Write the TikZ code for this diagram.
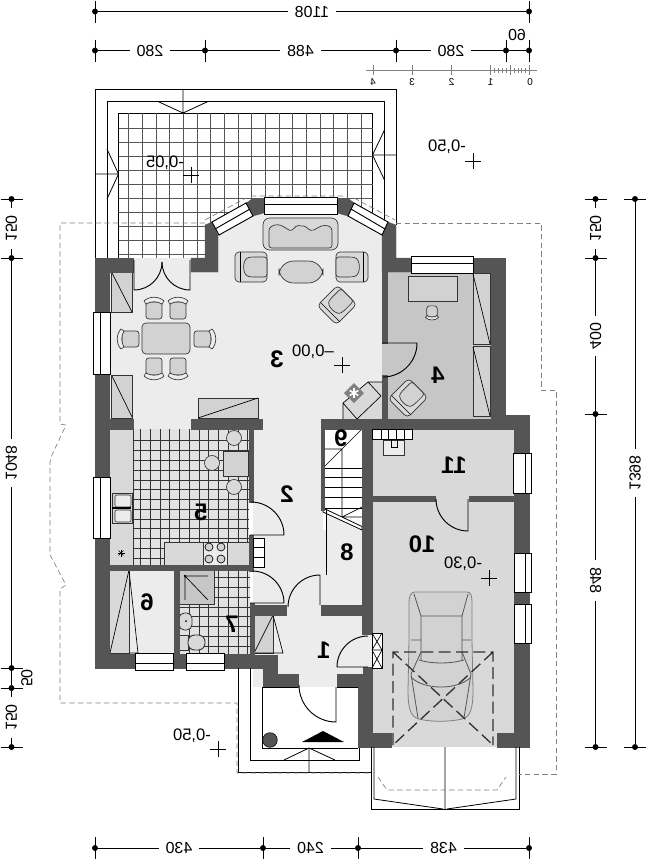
\documentclass[tikz,border=0pt]{standalone}
\usepackage{fontspec}
\usepackage{graphicx}
\setmainfont{Liberation Sans}
\definecolor{wallgray}{HTML}{555555}
\definecolor{hallgray}{HTML}{ECECEC}
\definecolor{studygray}{HTML}{C6C6C6}
\definecolor{garagegray}{HTML}{D9D9D9}
\definecolor{furngray}{HTML}{D2D2D2}
\definecolor{linegray}{HTML}{333333}
\definecolor{tilegray}{HTML}{E2E2E2}
\newcommand{\mirr}[1]{\reflectbox{#1}}
\newcommand{\vmirr}[1]{\scalebox{1}[-1]{#1}}
\tikzset{
	wall/.style={fill=wallgray,draw=wallgray,line width=0.2pt},
	pane/.style={fill=white,draw=black,line width=0.7pt},
	doorleaf/.style={draw=black,line width=0.7pt},
	furn/.style={fill=furngray,draw=linegray,line width=0.5pt},
	tileline/.style={draw=linegray,line width=0.45pt},
	overhang/.style={draw=gray,dashed,line width=0.5pt,dash pattern=on 4pt off 2.5pt},
	dimdot/.style={draw,fill=black,shape=circle,inner sep=0pt,minimum size=4pt},
	dimtext/.style={fill=white,inner xsep=5pt,inner ysep=1pt,font=\fontsize{12}{12}\selectfont},
	dimvert/.style={dimtext,rotate=90},
	dimfree/.style={inner sep=0pt,font=\fontsize{12}{12}\selectfont},
	roomno/.style={font=\bfseries\fontsize{18}{18}\selectfont,inner sep=0pt},
	level/.style={font=\fontsize{12.5}{13}\selectfont,inner sep=0pt},
	scaleno/.style={font=\fontsize{7.5}{8}\selectfont,inner sep=0pt},
	pics/dinechair/.style={code={
		\draw[furn,rounded corners=2pt] (-8,-6) rectangle (8,11);
		\draw[fill=hallgray,draw=linegray,line width=0.5pt] (-10,-7) .. controls (-5,-12) and (5,-12) .. (10,-7) -- (8,-4) .. controls (3,-7) and (-3,-7) .. (-8,-4) -- cycle;
	}},
	pics/armchair/.style={code={
		\draw[fill=garagegray,draw=linegray,line width=0.5pt,rounded corners=3pt] (-15,-16) rectangle (15,16);
		\draw[furn,rounded corners=2pt] (-10,16) -- (-10,0) .. controls (-8,-9) and (8,-9) .. (10,0) -- (10,16) -- cycle;
		\draw[line width=0.5pt] (-15,-11) -- (15,-11);
	}}
}
\begin{document}
\begin{tikzpicture}[x=0.75pt,y=-0.75pt,line cap=butt]
	\useasboundingbox (0,0) rectangle (646,860);

	\draw[fill=white,line width=0.7pt] (95,258) -- (95,89) -- (396,89) -- (396,225);
	\draw[line width=0.7pt] (107,258) -- (107,101.5) -- (384.5,101.5) -- (384.5,235);
	\draw[line width=0.7pt] (118.5,258) -- (118.5,113) -- (372.5,113) -- (372.5,220);
	\foreach \gx in {128.6,142.27,...,362} \draw[draw=wallgray,line width=0.55pt] (\gx,113) -- (\gx,258);
	\foreach \gy in {128,142,...,256} \draw[draw=wallgray,line width=0.55pt] (118.5,\gy) -- (372.5,\gy);
	\draw[line width=0.6pt] (183,89) -- (183,113) (158,101.5) -- (183,113) -- (208,101.5);
	\draw[line width=0.6pt] (396,155) -- (372.5,155) (384.5,130) -- (372.5,155) -- (384.5,180);
	\draw[line width=0.6pt] (95,174) -- (118.5,174) (107,149) -- (118.5,174) -- (107,199);

	\fill[hallgray] (109,272) -- (133,272) -- (133,258) -- (191,258) -- (191,272) -- (218,272) -- (218,235) -- (253,214) -- (348,214) -- (382,235) -- (382,429) -- (109,429) -- cycle;
	\fill[hallgray] (253,419) rectangle (363,687);
	\fill[hallgray] (277,615) rectangle (363,674);
	\fill[studygray] (382,272) rectangle (491,419);
	\fill[garagegray] (372,429) rectangle (514,747);
	\fill[tilegray] (108,429) rectangle (249,565);
	\fill[hallgray] (108,570) rectangle (174,654);
	\fill[tilegray] (179,570) rectangle (250,654);
	\fill[hallgray] (253,615) rectangle (283,654);
	\fill[white] (323,429) rectangle (362,530);
	\fill[hallgray] (326,514) -- (362,531) -- (362,605) -- (326,605) -- cycle;
	\fill[hallgray] (363,634) rectangle (372,667);

	\fill[garagegray] (108,429) rectangle (133,565);
	\foreach \gx in {133,140,150,160,169.7,179.5,189,199,208.5,218.5,228,238,247.5} \draw[tileline] (\gx,429) -- (\gx,565);
	\foreach \gy in {440.7,450.5,460.3,470,480,489.7,499.3,509,519,528.7,538.3,548.3,558} \draw[tileline] (133,\gy) -- (249,\gy);
	\foreach \gx in {189,199,208.5,218.5,228,238,247.5} \draw[tileline] (\gx,604) -- (\gx,654);
	\foreach \gx in {218.5,228,238,247.5} \draw[tileline] (\gx,570) -- (\gx,604);
	\foreach \gy in {577.5,587.5,597,607,616.5,626.5,636,646} \draw[tileline] (179,\gy) -- (250,\gy);

	\draw[furn] (112,493) rectangle (132,523);
	\draw[fill=hallgray,draw=linegray,rounded corners=1.5pt,line width=0.4pt] (115,495) rectangle (131,507) (115,510) rectangle (131,522);
	\draw[line width=0.8pt] (112,508) -- (131,508);
	\draw[fill=garagegray,draw=linegray,line width=0.5pt] (164,542) rectangle (249,565);
	\draw[fill=hallgray,draw=linegray,line width=0.5pt] (203,542) rectangle (227,565);
	\foreach \bx/\by in {209/547,221/547,209/559,221/559} \draw[fill=furngray,line width=0.5pt] (\bx,\by) circle (4);
	\foreach \ang in {0,45,...,315} \draw[line width=0.4pt] (121,553) -- ++(\ang:3.5);
	\draw[furn] (223,451) rectangle (248,476);
	\foreach \sx/\sy in {234/438,212/463,234/487} \draw[fill=garagegray,draw=linegray,line width=0.5pt] (\sx,\sy) circle (7.5);

	\draw[furn,rounded corners=3pt] (142,323) rectangle (190,354);
	\path (154,308) pic {dinechair} (178,308) pic {dinechair};
	\path (154,369) pic[rotate=180] {dinechair} (178,369) pic[rotate=180] {dinechair};
	\path (128,339) pic[rotate=90] {dinechair} (205,339) pic[rotate=-90] {dinechair};
	\draw[furn] (111,272) rectangle (132,312) (111,375) rectangle (132,418);
	\draw[line width=0.5pt] (112,273) -- (132,312) (112,376) -- (132,417);
	\draw[furn] (198,398) rectangle (258,418);
	\draw[line width=0.5pt] (198,418) -- (258,398);

	\draw[fill=garagegray,draw=linegray,line width=0.5pt,rounded corners=5pt] (263,218) rectangle (338,250);
	\draw[furn,rounded corners=2pt] (269,228) .. controls (275,224) and (280,224) .. (287,229) .. controls (293,232) and (295,225) .. (301,226) .. controls (307,226) and (309,232) .. (316,229) .. controls (322,225) and (327,225) .. (332,228) -- (332,248) -- (269,248) -- cycle;
	\draw[furn,rounded corners=11pt] (279,261) rectangle (323,283);
	\path (251,267) pic[rotate=90] {armchair} (352,267) pic[rotate=-90] {armchair};
	\path (337,305) pic[rotate=135,scale=0.9] {armchair};

	\fill[garagegray] (343,403) -- (368,382) -- (382,382) -- (382,419) -- (343,419) -- cycle;
	\draw[line width=0.5pt] (343,419) -- (343,403) -- (368,382) -- (381,396) -- (357,419) (343,403) -- (357,419) (368,382) -- (382,382);
	\fill[gray] (354,383) -- (364,393) -- (354,403) -- (344,393) -- cycle;
	\foreach \ang in {30,90,150,210,270,330} \draw[white,line width=1.2pt] (354,393) -- ++(\ang:5);

	\draw[furn] (408,276) rectangle (457,301);
	\path (432,313) pic[rotate=180,scale=0.65] {dinechair};
	\draw[furn] (473,273) rectangle (490,344) (473,346) rectangle (490,416);
	\draw[line width=0.5pt] (473,274) -- (490,344) (473,347) -- (490,416);
	\path (408,398) pic[rotate=135,scale=0.9] {armchair};

	\draw[fill=garagegray,draw=linegray,line width=0.5pt] (109,570) rectangle (129,653);
	\draw[line width=0.5pt] (110,653) -- (129,570) -- (138,653) -- (129,653);
	\draw[fill=studygray,draw=linegray,line width=0.6pt] (179,570) rectangle (214,604);
	\fill (185,576) circle (1.3);
	\draw[line width=0.5pt] (185,576) -- (208,600) (185,576) -- (208,576) (185,576) -- (185,600);
	\draw[fill=garagegray,draw=linegray,rounded corners=4pt,line width=0.6pt] (179,613) rectangle (192,630);
	\fill (186,621) circle (1);
	\draw[fill=garagegray,draw=linegray,line width=0.5pt] (179,635) rectangle (188,650);
	\draw[fill=garagegray,draw=linegray,rounded corners=5pt,line width=0.7pt] (188,635) rectangle (205,650);
	\draw[fill=furngray,draw=linegray,line width=0.5pt] (254,615) rectangle (273,653);
	\draw[line width=0.5pt] (254,653) -- (273,615) -- (283,653) -- (254,653);

	\draw[line width=0.5pt] (323,468) -- (362,429) (323,449) -- (342,449) (342,449) -- (342,517) -- (362,507) (342,517) -- (362,517);
	\foreach \sy in {468,477,487,497,508} \draw[line width=0.5pt] (323,\sy) -- (362,\sy);
	\draw[fill=white,line width=0.6pt] (323,508) -- (362,526.5) -- (362,530) -- (323,512) -- cycle;
	\draw[line width=0.6pt] (326,510) -- (326,575);

	\draw[fill=hallgray,draw=linegray,line width=0.5pt] (383,440) rectangle (404,455);
	\draw[line width=0.5pt] (391,436) rectangle (397,447);

	\draw[fill=furngray,draw=gray,line width=0.6pt] (415,592) -- (467,592) .. controls (471,592) and (472,596) .. (472,602) -- (472,640) -- (473,690) .. controls (473,710) and (470,717) .. (462,719) .. controls (450,722) and (430,722) .. (419,719) .. controls (411,717) and (408,710) .. (408,690) -- (409,640) -- (409,602) .. controls (409,596) and (411,592) .. (415,592) -- cycle;
	\draw[draw=wallgray,line width=0.6pt] (414,594) -- (421,616) -- (462,616) -- (468,594) (421,616) -- (421,660) (462,616) -- (462,660) (419,660) .. controls (432,664) and (450,664) .. (464,660);
	\draw[draw=wallgray,line width=0.6pt] (421,652) -- (411,674) (462,652) -- (471,674) (412,678) .. controls (425,690) and (457,690) .. (470,678) (411,640) -- (421,640) (462,640) -- (471,640) (418,718) -- (411,674) (464,718) -- (471,674);

	\draw[wall] (95,258) rectangle (133,272) (95,258) rectangle (109,668) (95,419) rectangle (133,429) (191,419) rectangle (262,429);
	\draw[wall] (95,654) rectangle (250,668) (108,565) rectangle (253,570) (174,570) rectangle (179,654);
	\draw[wall] (249,429) rectangle (253,502) (249,535) rectangle (253,571) (250,603) rectangle (254,655);
	\draw[wall] (250,605) rectangle (286,615) (321,605) rectangle (363,615);
	\draw[wall] (250,655) -- (277,655) -- (277,674) -- (298,674) -- (298,687) -- (263,687) -- (263,668) -- (250,668) -- cycle;
	\draw[wall] (321,419) rectangle (514,429) (321.5,429) rectangle (324,510) (362,429) rectangle (372,634);
	\draw[wall] (337,674) -- (363,674) -- (363,667) -- (372,667) -- (372,733) -- (391,733) -- (391,747) -- (358,747) -- (358,687) -- (337,687) -- cycle;
	\draw[wall] (372,496) rectangle (435,501) (469,496) rectangle (514,501);
	\draw[wall] (473,258) rectangle (505,272) (491,258) rectangle (505,415) (491,415) rectangle (529,429) (514,415) rectangle (529,747) (497,733) rectangle (529,747);
	\draw[wall] (382,272) rectangle (387,343) (382,375) rectangle (387,419);
	\draw[wall] (205,225) -- (212,222) -- (218,235) -- (218,272) -- (191,272) -- (191,258) -- (205,258) -- cycle;
	\draw[wall] (388,222) -- (396,225) -- (396,258) -- (411,258) -- (411,272) -- (382,272) -- (382,235) -- cycle;
	\draw[wall] (246,203) -- (252,199) -- (264,199) -- (264,213) -- (253,216) -- cycle;
	\draw[wall] (354,203) -- (349,199) -- (337,199) -- (337,213) -- (348,216) -- cycle;

	\draw[pane] (212,222) -- (246,203) -- (253,216) -- (219,235) -- cycle (215,229) -- (250,209);
	\draw[pane] (354,203) -- (388,222) -- (382,235) -- (348,216) -- cycle (351,209) -- (385,229);
	\draw[pane] (264,197) rectangle (337,214) (264,204) -- (337,204);
	\draw[pane] (411,256) rectangle (473,273) (411,263) -- (473,263);
	\draw[pane] (93,312) rectangle (110,374) (100,312) -- (100,374);
	\draw[pane] (93,477) rectangle (110,538) (100,477) -- (100,538);
	\draw[pane] (135,653) rectangle (173,670) (135,663) -- (173,663);
	\draw[pane] (186,653) rectangle (224,670) (186,663) -- (224,663);
	\draw[pane] (513,453) rectangle (531,493) (525,453) -- (525,493);
	\draw[pane] (514,553) rectangle (531,592) (525,553) -- (525,592);
	\draw[pane] (514,604) rectangle (531,643) (525,604) -- (525,643);
	\draw[pane] (253,538) rectangle (264,567) (253,547) -- (264,547) (253,557) -- (264,557);
	\draw[pane] (372,429) rectangle (412,439) (381,429) -- (381,439) (388,429) -- (388,439) (396,429) -- (396,439) (404,429) -- (404,439);

	\draw[doorleaf] (134,260) -- (134,290) arc (90:0:28);
	\draw[doorleaf] (190,260) -- (190,290) arc (90:180:28);
	\draw[doorleaf] (250,535) -- (284,535) arc (0:-90:33);
	\draw[doorleaf] (250,603) -- (284,603) arc (0:-90:32);
	\draw[doorleaf] (320,605) -- (320,575) arc (-90:-180:32);
	\draw[doorleaf] (382,343) -- (417,343) arc (0:90:34);
	\draw[doorleaf] (468,499) -- (468,531) arc (90:180:32);
	\draw[doorleaf] (368,667) -- (337,667) arc (180:270:31);
	\draw[doorleaf] (336,687) -- (336,722) arc (90:180:37);
	\draw[fill=white,line width=0.6pt] (372,633) rectangle (382,668);
	\draw[line width=0.5pt] (372,633) -- (382,650) -- (372,668) (382,633) -- (372,650) -- (382,668) (372,650) -- (382,650);

	\draw[line width=0.7pt] (262,687) -- (262,748) -- (358,748) (298,687) -- (262,687) (337,687) -- (358,687);
	\draw[line width=0.7pt] (250,668) -- (250,760) -- (359,760) -- (359,748);
	\draw[line width=0.7pt] (238,668) -- (238,772) -- (371,772);
	\draw[line width=0.6pt] (309,748) -- (309,772) (284,760) -- (309,748) -- (335,760);
	\fill[black] (302,742) -- (323,731) -- (344,742) -- cycle;
	\draw[fill=wallgray,line width=0.4pt] (270,740) circle (7.3);

	\draw[line width=0.7pt] (371,747) -- (371,809) -- (519,809) -- (519,747);
	\draw[line width=0.6pt] (374,747) -- (374,799) -- (443,809) (516,747) -- (516,799) -- (447,809) (445,747) -- (445,809);

	\draw[draw=linegray,dashed,line width=1pt,dash pattern=on 9pt off 4pt] (393,745) -- (393,652) -- (493,652) -- (493,745) (393,652) -- (493,745) (493,652) -- (393,745);

	\draw[overhang] (205,223) -- (60,223) -- (60,424) -- (66,425) -- (52,455) -- (50,462) -- (50,555) -- (66,585) -- (60,589) -- (60,703) -- (237,703) -- (237,773) -- (371,773);
	\draw[overhang] (396,223) -- (541,223) -- (541,390) -- (556,390) -- (556,774) -- (519,774);
	\draw[overhang] (378,777) -- (387,790) -- (497,790) -- (506,777);
	\draw[overhang] (251,196) -- (348,196) (205,220) -- (246,198) (354,198) -- (395,220);

	\path (324,650) node[roomno] (r1) {\mirr{1}};
	\path (287,494) node[roomno] (r2) {\mirr{2}};
	\path (277,359) node[roomno] (r3) {\mirr{3}};
	\path (438,375) node[roomno] (r4) {\mirr{4}};
	\path (201,512) node[roomno] (r5) {\mirr{5}};
	\path (147,602) node[roomno] (r6) {\mirr{6}};
	\path (232,624) node[roomno] (r7) {\mirr{7}};
	\path (347,552) node[roomno] (r8) {\mirr{8}};
	\path (341,438) node[roomno] (r9) {\mirr{9}};
	\path (422,544) node[roomno] (r10) {\mirr{10}};
	\path (454,465) node[roomno] (r11) {\mirr{11}};

	\foreach \lx/\ly/\ltx/\lty/\ltext in {473/161/447/147/{-0,50},191/175/165/163/{-0,05},342/365/313/352/{--0,00},489/578/463/564/{-0,30},218/749/192/736/{-0,50}} {
		\draw[line width=0.4pt] (\lx-8,\ly) -- (\lx+8,\ly) (\lx,\ly-8) -- (\lx,\ly+8);
		\path (\ltx,\lty) node[level] {\mirr{\ltext}};
	}

	\draw[draw=gray,line width=0.6pt] (366,70) -- (537,70);
	\foreach \sx in {373,412,451.5,490.5,510,529.5} \draw[draw=gray,line width=0.5pt] (\sx,65) -- (\sx,75);
	\foreach \sx in {494.4,498.3,502.2,506.1,513.9,517.8,521.7,525.6} \draw[draw=gray,line width=0.4pt] (\sx,67.5) -- (\sx,72.5);
	\path (373,82) node[scaleno] (sc4) {\mirr{4}};
	\path (412,82) node[scaleno] (sc3) {\mirr{3}};
	\path (451.5,82) node[scaleno] (sc2) {\mirr{2}};
	\path (490.5,82) node[scaleno] (sc1) {\mirr{1}};
	\path (530,82) node[scaleno] (sc0) {\mirr{0}};

	\path (95,11.5) node[dimdot] (ta) {};
	\path (529,11.5) node[dimdot] (tb) {};
	\path (95,50.5) node[dimdot] (ua) {};
	\path (205,50.5) node[dimdot] (ub) {};
	\path (396,50.5) node[dimdot] (uc) {};
	\path (506,50.5) node[dimdot] (ud) {};
	\path (529,50.5) node[dimdot] (ue) {};
	\path (95,848) node[dimdot] (ba) {};
	\path (263,848) node[dimdot] (bb) {};
	\path (358,848) node[dimdot] (bc) {};
	\path (529,848) node[dimdot] (bd) {};
	\path (11.5,199) node[dimdot] (la) {};
	\path (11.5,258) node[dimdot] (lb) {};
	\path (11.5,668) node[dimdot] (lc) {};
	\path (11.5,688) node[dimdot] (ld) {};
	\path (11.5,747) node[dimdot] (le) {};
	\path (595.5,199) node[dimdot] (ma) {};
	\path (595.5,258) node[dimdot] (mb) {};
	\path (595.5,414) node[dimdot] (mc) {};
	\path (595.5,747) node[dimdot] (md) {};
	\path (635,199) node[dimdot] (oa) {};
	\path (635,747) node[dimdot] (ob) {};

	\foreach \n in {ta,tb,ua,ub,uc,ud,ue,ba,bb,bc,bd} \draw[line width=0.4pt] (\n.center) ++(0,-11) -- ++(0,22);
	\foreach \n in {la,lb,lc,ld,le,ma,mb,mc,md,oa,ob} \draw[line width=0.4pt] (\n.center) ++(-11,0) -- ++(22,0);

	\draw[line width=0.5pt] (ta) -- (tb) node[midway,dimtext] {\mirr{1108}};
	\draw[line width=0.5pt] (ua) -- (ub) node[midway,dimtext] {\mirr{280}};
	\draw[line width=0.5pt] (ub) -- (uc) node[midway,dimtext] {\mirr{488}};
	\draw[line width=0.5pt] (uc) -- (ud) node[midway,dimtext] {\mirr{280}};
	\draw[line width=0.5pt] (ud) -- (ue);
	\path (517,34.5) node[dimfree] (dsixty) {\mirr{60}};
	\draw[line width=0.5pt] (ba) -- (bb) node[midway,dimtext] {\mirr{430}};
	\draw[line width=0.5pt] (bb) -- (bc) node[midway,dimtext] {\mirr{240}};
	\draw[line width=0.5pt] (bc) -- (bd) node[midway,dimtext] {\mirr{438}};
	\draw[line width=0.5pt] (la) -- (lb) node[midway,dimvert] {\vmirr{150}};
	\draw[line width=0.5pt] (lb) -- (lc) node[midway,dimvert] {\vmirr{1048}};
	\draw[line width=0.5pt] (lc) -- (ld);
	\path (27,678) node[dimfree,rotate=90] (dfifty) {\vmirr{50}};
	\draw[line width=0.5pt] (ld) -- (le) node[midway,dimvert] {\vmirr{150}};
	\draw[line width=0.5pt] (ma) -- (mb) node[midway,dimvert] {\vmirr{150}};
	\draw[line width=0.5pt] (mb) -- (mc) node[midway,dimvert] {\vmirr{400}};
	\draw[line width=0.5pt] (mc) -- (md) node[midway,dimvert] {\vmirr{848}};
	\draw[line width=0.5pt] (oa) -- (ob) node[midway,dimvert] {\vmirr{1398}};
\end{tikzpicture}
\end{document}
